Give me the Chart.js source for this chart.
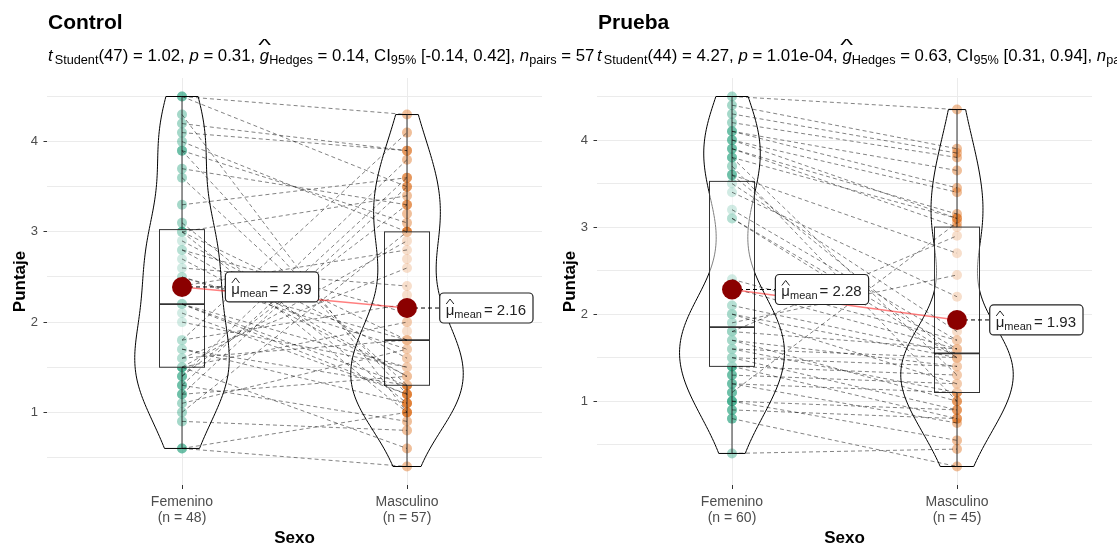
<!DOCTYPE html>
<html lang="es">
<head>
<meta charset="utf-8">
<title>Puntaje por sexo: Control y Prueba</title>
<script src="https://cdn.jsdelivr.net/npm/chart.js@4.4.1/dist/chart.umd.min.js"></script>
<style>
  html, body { margin: 0; padding: 0; background: #fff; }
  body { width: 1117px; height: 547px; overflow: hidden; position: relative;
         font-family: 'Liberation Sans', Arial, sans-serif; color: #000; }
  canvas { position: absolute; top: 0; }
  #grafico-control { left: 0; }
  #grafico-prueba { left: 550px; }
  .titulo { position: absolute; top: 11px; font-size: 21px; line-height: 21px; font-weight: bold; white-space: nowrap; z-index: 2; }
  .subtitulo { position: absolute; top: 48px; font-size: 16.8px; line-height: 16px; white-space: nowrap; z-index: 2; }
  .subtitulo sub { font-size: 12.7px; vertical-align: -3px; line-height: 0; }
  .subtitulo .tras-t { margin-left: 2px; }
  .sombrero { position: relative; display: inline-block; }
  .sombrero::before { content: '^'; position: absolute; left: 0; right: 0; top: -10px;
                      text-align: center; font-style: normal; font-size: 16px; transform: scaleX(1.7); }
</style>
</head>
<body>
<div class="titulo" style="left:48px">Control</div>
<div class="subtitulo" style="left:48px"><i>t</i><sub class="tras-t">Student</sub>(47) = 1.02, <i>p</i> = 0.31, <span class="sombrero"><i>g</i></span><sub>Hedges</sub> = 0.14, CI<sub>95%</sub> [-0.14, 0.42], <i>n</i><sub>pairs</sub> = 57</div>
<div class="titulo" style="left:598px">Prueba</div>
<div class="subtitulo" style="left:597px"><i>t</i><sub class="tras-t">Student</sub>(44) = 4.27, <i>p</i> = 1.01e-04, <span class="sombrero"><i>g</i></span><sub>Hedges</sub> = 0.63, CI<sub>95%</sub> [0.31, 0.94], <i>n</i><sub>pairs</sub> = 45</div>

<canvas id="grafico-control" width="558" height="547"></canvas>
<canvas id="grafico-prueba" width="567" height="547"></canvas>

<script>
// Categorías del eje x y su posición
const categorias = ['Femenino', 'Masculino'];
const posiciones = [1, 2];

// Puntajes del grupo Control (en el orden de los datos; se emparejan por índice)
const controlFemenino = [4.5, 1.2, 3.0, 1.5, 0.6, 2.2, 4.1, 1.7, 2.8, 1.4, 3.9, 1.0, 2.5, 1.6, 4.3, 1.3,
                         2.0, 3.6, 1.8, 0.9, 2.7, 1.5, 4.0, 1.1, 3.1, 1.4, 2.2, 4.5, 1.6, 2.9, 1.3, 3.7,
                         1.8, 0.6, 2.4, 1.7, 3.9, 1.2, 3.0, 1.5, 2.6, 4.2, 2.1, 3.3, 2.5, 2.8, 2.2, 3.0];
const controlMasculino = [4.3, 3.5, 1.0, 2.0, 0.4, 1.3, 3.9, 1.1, 1.4, 3.3, 1.2, 3.0, 1.8, 2.6, 1.0, 3.6,
                          1.5, 1.3, 4.1, 0.8, 1.4, 2.9, 3.0, 1.7, 1.1, 3.8, 1.2, 3.5, 1.8, 1.6, 0.9, 3.3,
                          2.2, 1.0, 2.8, 1.3, 3.1, 1.4, 1.8, 0.6, 2.4, 3.9, 1.2, 3.6, 1.7, 2.1, 1.5, 3.4,
                          1.1, 1.6, 3.0, 2.0, 1.9, 2.7, 1.8, 3.2, 2.3];

// Puntajes del grupo Prueba
const pruebaFemenino = [4.5, 1.7, 4.0, 0.4, 2.3, 3.9, 1.2, 4.4, 1.6, 3.6, 1.0, 2.0, 4.1, 1.4, 3.8, 1.8,
                        3.2, 0.9, 4.3, 1.5, 2.1, 3.7, 1.1, 4.0, 1.6, 3.5, 1.3, 3.9, 1.8, 0.8, 4.2, 1.7,
                        3.4, 1.5, 2.4, 3.8, 1.2, 3.1, 1.9, 4.1, 1.0, 3.6, 2.0, 3.1, 1.4, 1.8, 0.9, 2.1,
                        1.1, 1.5, 0.8, 1.3, 2.3, 1.0, 1.6, 1.9, 1.4, 1.8, 1.7, 2.0];
const pruebaMasculino = [4.35, 1.4, 3.1, 0.45, 1.6, 3.15, 0.75, 3.9, 1.5, 2.7, 0.9, 1.5, 3.45, 0.8, 3.1,
                         2.9, 1.7, 0.8, 3.85, 1.4, 1.55, 1.0, 3.05, 3.4, 1.1, 1.8, 1.2, 3.0, 1.6, 0.25,
                         3.8, 1.0, 2.2, 0.9, 1.7, 1.3, 1.1, 1.6, 2.45, 3.65, 0.55, 1.5, 1.2, 1.5, 1.3];

// Rejilla y etiquetas del eje y
const marcasY = [0.5, 1, 1.5, 2, 2.5, 3, 3.5, 4, 4.5];
const etiquetasY = [1, 2, 3, 4];

const colores = {
    femenino: 'rgba(27, 158, 119, 0.4)',
    masculino: 'rgba(217, 95, 2, 0.4)',
    media: '#8B0000',
    lineaMedia: 'rgba(255, 0, 0, 0.5)',
    pares: 'rgba(0, 0, 0, 0.55)',
    rejilla: '#EBEBEB',
    texto: '#4D4D4D',
    caja: '#333333'
};

const fuente = "'Liberation Sans', Arial, sans-serif";

// --- estadísticos simples ---
function media(a) {
    return a.reduce((s, v) => s + v, 0) / a.length;
}

function cuantil(a, p) {
    const s = [...a].sort((x, y) => x - y);
    const h = (s.length - 1) * p;
    const lo = Math.floor(h);
    const hi = Math.min(lo + 1, s.length - 1);
    return s[lo] + (h - lo) * (s[hi] - s[lo]);
}

function desvio(a) {
    const m = media(a);
    return Math.sqrt(a.reduce((s, v) => s + (v - m) * (v - m), 0) / (a.length - 1));
}

// Ancho de banda tipo nrd0 (como R)
function anchoBanda(a) {
    const iqr = cuantil(a, 0.75) - cuantil(a, 0.25);
    return 0.9 * Math.min(desvio(a), iqr / 1.34) * Math.pow(a.length, -0.2);
}

// Densidad gaussiana recortada al rango de los datos
function densidad(a, pasos) {
    const bw = anchoBanda(a);
    const min = Math.min(...a), max = Math.max(...a);
    const k = 1 / (a.length * bw * Math.sqrt(2 * Math.PI));
    const res = [];
    for (let i = 0; i <= pasos; i++) {
        const y = min + (max - min) * i / pasos;
        let d = 0;
        a.forEach(v => { const z = (y - v) / bw; d += Math.exp(-0.5 * z * z); });
        res.push({ y: y, d: d * k });
    }
    return res;
}

function resumenCaja(a) {
    const q1 = cuantil(a, 0.25), q2 = cuantil(a, 0.5), q3 = cuantil(a, 0.75);
    const iqr = q3 - q1;
    const dentro = a.filter(v => v >= q1 - 1.5 * iqr && v <= q3 + 1.5 * iqr);
    return { q1, q2, q3, bajo: Math.min(...dentro), alto: Math.max(...dentro) };
}

// Violines y cajas, dibujados justo después de los puntos
const pluginVioCaja = {
    id: 'violinCaja',
    afterDatasetDraw(chart, args) {
        const ds = chart.data.datasets[args.index];
        if (!ds.cajasDespues) return;
        const { ctx, scales: { x, y } } = chart;
        const grupos = chart.options.plugins.violinCaja.grupos;
        const dens = grupos.map(g => densidad(g, 120));
        const maxD = Math.max(...dens.flat().map(p => p.d));

        ctx.save();
        grupos.forEach((g, i) => {
            const c = posiciones[i];
            // violín
            ctx.beginPath();
            dens[i].forEach((p, j) => {
                const px = x.getPixelForValue(c - 0.25 * p.d / maxD);
                const py = y.getPixelForValue(p.y);
                if (j === 0) ctx.moveTo(px, py); else ctx.lineTo(px, py);
            });
            for (let j = dens[i].length - 1; j >= 0; j--) {
                const p = dens[i][j];
                ctx.lineTo(x.getPixelForValue(c + 0.25 * p.d / maxD), y.getPixelForValue(p.y));
            }
            ctx.closePath();
            ctx.strokeStyle = '#000';
            ctx.lineWidth = 1;
            ctx.stroke();

            // caja
            const r = resumenCaja(g);
            const x0 = x.getPixelForValue(c - 0.1), x1 = x.getPixelForValue(c + 0.1);
            const xc = x.getPixelForValue(c);
            const yq1 = y.getPixelForValue(r.q1), yq3 = y.getPixelForValue(r.q3);
            ctx.fillStyle = 'rgba(255, 255, 255, 0.5)';
            ctx.fillRect(x0, yq3, x1 - x0, yq1 - yq3);
            ctx.strokeStyle = colores.caja;
            ctx.lineWidth = 1;
            ctx.strokeRect(x0, yq3, x1 - x0, yq1 - yq3);
            ctx.beginPath();
            ctx.moveTo(xc, yq3); ctx.lineTo(xc, y.getPixelForValue(r.alto));
            ctx.moveTo(xc, yq1); ctx.lineTo(xc, y.getPixelForValue(r.bajo));
            ctx.stroke();
            ctx.lineWidth = 1.8;
            ctx.beginPath();
            ctx.moveTo(x0, y.getPixelForValue(r.q2));
            ctx.lineTo(x1, y.getPixelForValue(r.q2));
            ctx.stroke();
        });
        ctx.restore();
    }
};

// Medidas de la etiqueta de la media
function medirEtiqueta(ctx, valor) {
    const texto = '= ' + valor.toFixed(2);
    ctx.font = '15px ' + fuente;
    const wMu = ctx.measureText('μ').width;
    const wTxt = ctx.measureText(texto).width;
    ctx.font = '11px ' + fuente;
    const wSub = ctx.measureText('mean').width;
    const w = 6 + wMu + wSub + 2 + wTxt + 7;
    return { w, h: 30, wMu, wSub, wTxt, texto };
}

const pluginMedias = {
    id: 'etiquetasMedia',
    afterDatasetDraw(chart, args) {
        const ds = chart.data.datasets[args.index];
        if (!ds.esLineaMedia) return;
        const { ctx, scales: { x, y }, chartArea } = chart;
        const medias = chart.options.plugins.etiquetasMedia.medias;
        chart.$cajasMedia = [];
        ctx.save();
        medias.forEach((m, i) => {
            const px = x.getPixelForValue(posiciones[i]);
            const py = y.getPixelForValue(m);
            const med = medirEtiqueta(ctx, m);
            let cx = x.getPixelForValue(posiciones[i] + 0.4);
            cx = Math.min(cx, chartArea.right - 9 - med.w / 2);
            const izq = cx - med.w / 2;
            chart.$cajasMedia.push({ izq, py, med });
            // segmento punteado desde el punto hasta la etiqueta
            ctx.strokeStyle = '#000';
            ctx.lineWidth = 1;
            ctx.setLineDash([4, 3]);
            ctx.beginPath();
            ctx.moveTo(px, py);
            ctx.lineTo(izq, py);
            ctx.stroke();
        });
        ctx.restore();
    },
    afterDatasetsDraw(chart) {
        const ctx = chart.ctx;
        (chart.$cajasMedia || []).forEach(c => {
            const { izq, py, med } = c;
            const top = py - med.h / 2;
            ctx.save();
            ctx.beginPath();
            ctx.roundRect(izq, top, med.w, med.h, 4);
            ctx.fillStyle = '#fff';
            ctx.fill();
            ctx.strokeStyle = '#222';
            ctx.lineWidth = 1.2;
            ctx.stroke();

            let xt = izq + 6;
            const base = py + 7;
            ctx.fillStyle = '#222';
            ctx.textBaseline = 'alphabetic';
            ctx.font = '15px ' + fuente;
            ctx.fillText('μ', xt, base);
            // sombrero sobre mu
            ctx.lineWidth = 1;
            ctx.beginPath();
            ctx.moveTo(xt + 0.5, py - 4);
            ctx.lineTo(xt + med.wMu / 2, py - 9);
            ctx.lineTo(xt + med.wMu - 0.5, py - 4);
            ctx.strokeStyle = '#222';
            ctx.stroke();
            xt += med.wMu;
            ctx.font = '11px ' + fuente;
            ctx.fillText('mean', xt, base + 3);
            xt += med.wSub + 2;
            ctx.font = '15px ' + fuente;
            ctx.fillText(med.texto, xt, base);
            ctx.restore();
        });
    }
};

function crearPanel(idCanvas, femenino, masculino, rellenoDerecho) {
    const grupos = [femenino, masculino];
    const todos = femenino.concat(masculino);
    const lo = Math.min(...todos), hi = Math.max(...todos);
    const margen = (hi - lo) * 0.05;
    const medias = grupos.map(media);

    // Líneas punteadas entre observaciones emparejadas
    const pares = [];
    const nPares = Math.min(femenino.length, masculino.length);
    for (let i = 0; i < nPares; i++) {
        pares.push({ x: posiciones[0], y: femenino[i] });
        pares.push({ x: posiciones[1], y: masculino[i] });
        pares.push({ x: 1.5, y: null });
    }

    const ctx = document.getElementById(idCanvas).getContext('2d');
    return new Chart(ctx, {
        type: 'scatter',
        data: {
            datasets: [
                {
                    label: 'Medias',
                    data: medias.map((m, i) => ({ x: posiciones[i], y: m })),
                    pointRadius: 10,
                    pointBackgroundColor: colores.media,
                    pointBorderWidth: 0,
                    order: 1
                },
                {
                    label: 'Línea de medias',
                    data: medias.map((m, i) => ({ x: posiciones[i], y: m })),
                    showLine: true,
                    borderColor: colores.lineaMedia,
                    borderWidth: 1.5,
                    pointRadius: 0,
                    esLineaMedia: true,
                    order: 2
                },
                {
                    label: 'Pares',
                    data: pares,
                    showLine: true,
                    spanGaps: false,
                    borderColor: colores.pares,
                    borderWidth: 0.9,
                    borderDash: [4, 3],
                    pointRadius: 0,
                    order: 4
                },
                {
                    label: categorias[1],
                    data: masculino.map(v => ({ x: posiciones[1], y: v })),
                    pointRadius: 5,
                    pointBackgroundColor: colores.masculino,
                    pointBorderWidth: 0,
                    cajasDespues: true,
                    order: 5
                },
                {
                    label: categorias[0],
                    data: femenino.map(v => ({ x: posiciones[0], y: v })),
                    pointRadius: 5,
                    pointBackgroundColor: colores.femenino,
                    pointBorderWidth: 0,
                    order: 6
                }
            ]
        },
        options: {
            responsive: false,
            animation: false,
            devicePixelRatio: 1,
            layout: { padding: { top: 78, left: 0, right: rellenoDerecho, bottom: 0 } },
            plugins: {
                legend: { display: false },
                tooltip: { enabled: false },
                violinCaja: { grupos: grupos },
                etiquetasMedia: { medias: medias }
            },
            scales: {
                x: {
                    type: 'linear',
                    min: 0.4,
                    max: 2.6,
                    afterBuildTicks: s => { s.ticks = posiciones.map(v => ({ value: v })); },
                    afterFit: s => { s.height = 62; },
                    ticks: {
                        autoSkip: false,
                        maxRotation: 0,
                        padding: 5,
                        color: colores.texto,
                        font: { family: fuente, size: 14, lineHeight: 1.15 },
                        callback: v => {
                            const i = posiciones.indexOf(v);
                            return i < 0 ? '' : [categorias[i], '(n = ' + grupos[i].length + ')'];
                        }
                    },
                    grid: { color: colores.rejilla, tickColor: '#333', tickLength: 4 },
                    border: { display: false },
                    title: {
                        display: true,
                        text: 'Sexo',
                        color: '#000',
                        font: { family: fuente, size: 17, weight: 'bold', lineHeight: 1 },
                        padding: { top: 0, bottom: 0 }
                    }
                },
                y: {
                    min: lo - margen,
                    max: hi + margen,
                    afterBuildTicks: s => {
                        s.ticks = marcasY.filter(v => v > s.min && v < s.max).map(v => ({ value: v }));
                    },
                    afterFit: s => { s.width = 47; },
                    ticks: {
                        padding: 5.5,
                        color: colores.texto,
                        font: { family: fuente, size: 13 },
                        callback: v => etiquetasY.includes(v) ? String(v) : ''
                    },
                    grid: {
                        color: colores.rejilla,
                        tickLength: 3.5,
                        tickColor: c => etiquetasY.includes(c.tick && c.tick.value) ? '#333' : 'rgba(0,0,0,0)'
                    },
                    border: { display: false },
                    title: {
                        display: true,
                        text: 'Puntaje',
                        color: '#000',
                        font: { family: fuente, size: 17, weight: 'bold' },
                        padding: { top: 10, bottom: 0 }
                    }
                }
            }
        },
        plugins: [pluginVioCaja, pluginMedias]
    });
}

crearPanel('grafico-control', controlFemenino, controlMasculino, 16);
crearPanel('grafico-prueba', pruebaFemenino, pruebaMasculino, 25);
</script>
</body>
</html>
